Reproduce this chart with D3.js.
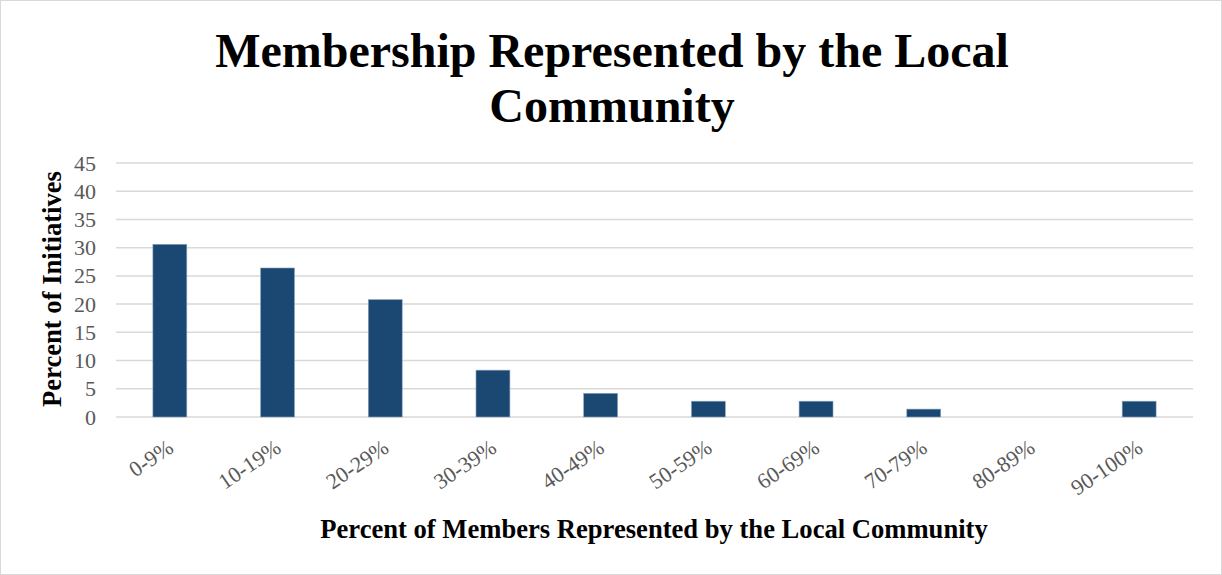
<!DOCTYPE html>
<html>
<head>
<meta charset="utf-8">
<script src="https://cdn.jsdelivr.net/npm/d3@7"></script>
<style>
  body { margin: 0; background: #fff; }
  svg { display: block; }
</style>
</head>
<body>
<div id="chart"></div>
<script>
"use strict";

// chart data
var categories = ["0-9%", "10-19%", "20-29%", "30-39%", "40-49%", "50-59%", "60-69%", "70-79%", "80-89%", "90-100%"];
var values = [30.6, 26.4, 20.8, 8.3, 4.2, 2.8, 2.8, 1.4, 0, 2.8];
var yTicks = [0, 5, 10, 15, 20, 25, 30, 35, 40, 45];
var titleLines = ["Membership Represented by the Local", "Community"];

var W = 1222, H = 575;
var margin = {top: 163, right: 29, bottom: 158, left: 116};
var width = W - margin.left - margin.right;
var height = H - margin.top - margin.bottom;
var font = "'Liberation Serif', 'Times New Roman', serif";

var svg = d3.select("#chart").append("svg")
    .attr("width", W)
    .attr("height", H);

// outer border
svg.append("rect")
    .attr("x", 0.5).attr("y", 0.5)
    .attr("width", W - 1).attr("height", H - 1)
    .attr("fill", "#fff")
    .attr("stroke", "#d9d9d9");

var g = svg.append("g")
    .attr("transform", "translate(" + margin.left + "," + margin.top + ")");

var x = d3.scaleBand()
    .domain(categories)
    .range([0, width])
    .paddingInner(0.685)
    .paddingOuter(0.3425);

var y = d3.scaleLinear()
    .domain([0, 45])
    .range([height, 0]);

// gridlines
g.append("g")
    .selectAll("line")
    .data(yTicks)
    .enter().append("line")
    .attr("x1", 0).attr("x2", width)
    .attr("y1", function(d) { return y(d); })
    .attr("y2", function(d) { return y(d); })
    .attr("stroke", "#d9d9d9")
    .attr("stroke-width", 1.5);

// y axis labels
var yAxis = g.append("g")
    .call(d3.axisLeft(y).tickValues(yTicks).tickSize(0).tickPadding(20));
yAxis.select(".domain").remove();
yAxis.selectAll("text")
    .attr("font-family", font)
    .attr("font-size", 22)
    .attr("fill", "#595959");

// bars
g.selectAll(".bar")
    .data(values)
    .enter().append("rect")
    .attr("class", "bar")
    .attr("x", function(d, i) { return x(categories[i]); })
    .attr("width", x.bandwidth())
    .attr("y", function(d) { return y(d); })
    .attr("height", function(d) { return height - y(d); })
    .attr("fill", "#1b4872")
    .attr("stroke", "#8da6c0")
    .attr("stroke-width", 0.6);

// x axis labels
var xAxis = g.append("g")
    .attr("transform", "translate(0," + height + ")")
    .call(d3.axisBottom(x).tickSize(0).tickPadding(0));
xAxis.select(".domain").remove();
xAxis.selectAll("text")
    .attr("font-family", font)
    .attr("font-size", 22)
    .attr("fill", "#595959")
    .attr("text-anchor", "end")
    .attr("dy", 0)
    .attr("transform", "translate(5,34) rotate(-34)");

// title
svg.append("text")
    .attr("x", 612)
    .attr("y", 67)
    .attr("text-anchor", "middle")
    .attr("font-family", font)
    .attr("font-weight", "bold")
    .attr("font-size", 48)
    .attr("fill", "#000")
    .selectAll("tspan")
    .data(titleLines)
    .enter().append("tspan")
    .attr("x", 612)
    .attr("dy", function(d, i) { return i === 0 ? 0 : 55; })
    .text(function(d) { return d; });

// axis titles
svg.append("text")
    .attr("x", 654)
    .attr("y", 538)
    .attr("text-anchor", "middle")
    .attr("font-family", font)
    .attr("font-weight", "bold")
    .attr("font-size", 26.6)
    .text("Percent of Members Represented by the Local Community");

svg.append("text")
    .attr("transform", "translate(61,289) rotate(-90)")
    .attr("text-anchor", "middle")
    .attr("font-family", font)
    .attr("font-weight", "bold")
    .attr("font-size", 26.6)
    .text("Percent of Initiatives");
</script>
</body>
</html>
